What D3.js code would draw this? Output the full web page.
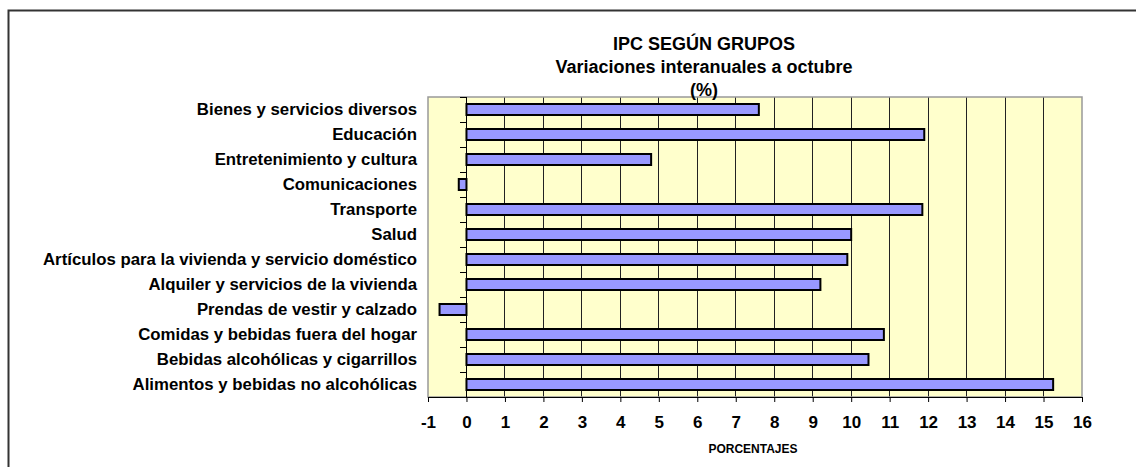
<!DOCTYPE html>
<html>
<head>
<meta charset="utf-8">
<script src="https://cdn.jsdelivr.net/npm/d3@7"></script>
<style>
  body { margin: 0; background: #fff; }
  text { font-family: Arial, "Liberation Sans", sans-serif; font-weight: bold; fill: #000; }
</style>
</head>
<body>
<div id="chart"></div>
<script>
"use strict";

// categories, top to bottom as drawn
const categories = [
    "Bienes y servicios diversos",
    "Educación",
    "Entretenimiento y cultura",
    "Comunicaciones",
    "Transporte",
    "Salud",
    "Artículos para la vivienda y servicio doméstico",
    "Alquiler y servicios de la vivienda",
    "Prendas de vestir y calzado",
    "Comidas y bebidas fuera del hogar",
    "Bebidas alcohólicas y cigarrillos",
    "Alimentos y bebidas no alcohólicas"
];

// year-on-year variation (%)
const values = [7.6, 11.9, 4.8, -0.2, 11.85, 10.0, 9.9, 9.2, -0.7, 10.85, 10.45, 15.25];

const xTicks = [-1, 0, 1, 2, 3, 4, 5, 6, 7, 8, 9, 10, 11, 12, 13, 14, 15, 16];

const titleLines = ["IPC SEGÚN GRUPOS", "Variaciones interanuales a octubre", "(%)"];
const xLabel = "PORCENTAJES";

const width = 1136, height = 467;
const margin = { top: 97, right: 54, bottom: 70, left: 428 };
const innerW = width - margin.left - margin.right;
const innerH = height - margin.top - margin.bottom;

const svg = d3.select("#chart").append("svg")
    .attr("width", width)
    .attr("height", height);

// outer frame of the chart object
svg.append("path")
    .attr("d", `M8.5,${height} V10.5 H${width}`)
    .attr("fill", "none")
    .attr("stroke", "#333")
    .attr("stroke-width", 2);

const x = d3.scaleLinear().domain([-1, 16]).range([0, innerW]);
const y = d3.scaleBand().domain(categories).range([0, innerH])
    .paddingInner(0.56).paddingOuter(0.28);

const g = svg.append("g")
    .attr("transform", `translate(${margin.left},${margin.top})`);

// plot background
g.append("rect")
    .attr("width", innerW)
    .attr("height", innerH)
    .attr("fill", "#ffffcc");

// vertical gridlines
g.append("g")
    .selectAll("line")
    .data(xTicks.filter(d => d > 0 && d < 16))
    .join("line")
    .attr("x1", d => x(d)).attr("x2", d => x(d))
    .attr("y1", 0).attr("y2", innerH)
    .attr("stroke", "#222")
    .attr("stroke-width", 1)
    .attr("shape-rendering", "crispEdges");

// plot border
g.append("rect")
    .attr("width", innerW)
    .attr("height", innerH)
    .attr("fill", "none")
    .attr("stroke", "#999")
    .attr("stroke-width", 1.5);

// bars
g.append("g")
    .selectAll("rect")
    .data(values)
    .join("rect")
    .attr("x", d => x(Math.min(0, d)))
    .attr("y", (d, i) => y(categories[i]))
    .attr("width", d => Math.abs(x(d) - x(0)))
    .attr("height", y.bandwidth())
    .attr("fill", "#9999ff")
    .attr("stroke", "#000")
    .attr("stroke-width", 2);

// category axis at zero
const step = y.step();
const boundaries = d3.range(categories.length + 1).map(i => i * step);
const yAx = g.append("g").attr("transform", `translate(${x(0)},0)`);
yAx.append("line")
    .attr("y1", 0).attr("y2", innerH)
    .attr("stroke", "#000")
    .attr("shape-rendering", "crispEdges");
yAx.selectAll("line.tick")
    .data(boundaries)
    .join("line")
    .attr("class", "tick")
    .attr("x1", -6).attr("x2", 0)
    .attr("y1", d => d).attr("y2", d => d)
    .attr("stroke", "#000")
    .attr("shape-rendering", "crispEdges");

// category labels
g.append("g")
    .selectAll("text")
    .data(categories)
    .join("text")
    .attr("x", -11)
    .attr("y", d => y(d) + y.bandwidth() / 2)
    .attr("dy", "0.35em")
    .attr("text-anchor", "end")
    .style("font-size", "16.8px")
    .text(d => d);

// value axis
const xAxis = g.append("g")
    .attr("transform", `translate(0,${innerH})`)
    .call(d3.axisBottom(x).tickValues(xTicks).tickFormat(d => String(d)).tickSize(5).tickPadding(14));
xAxis.select(".domain").attr("stroke", "#000");
xAxis.selectAll(".tick line").attr("stroke", "#000");
xAxis.selectAll(".tick text")
    .style("font-family", "Arial, 'Liberation Sans', sans-serif")
    .style("font-weight", "bold")
    .style("font-size", "17px")
    .attr("fill", "#000");

// axis title
svg.append("text")
    .attr("x", 753)
    .attr("y", 453)
    .attr("text-anchor", "middle")
    .style("font-size", "12px")
    .text(xLabel);

// chart title
svg.append("g")
    .selectAll("text")
    .data(titleLines)
    .join("text")
    .attr("x", 704)
    .attr("y", (d, i) => 50 + i * 23)
    .attr("text-anchor", "middle")
    .style("font-size", "18px")
    .text(d => d);
</script>
</body>
</html>
